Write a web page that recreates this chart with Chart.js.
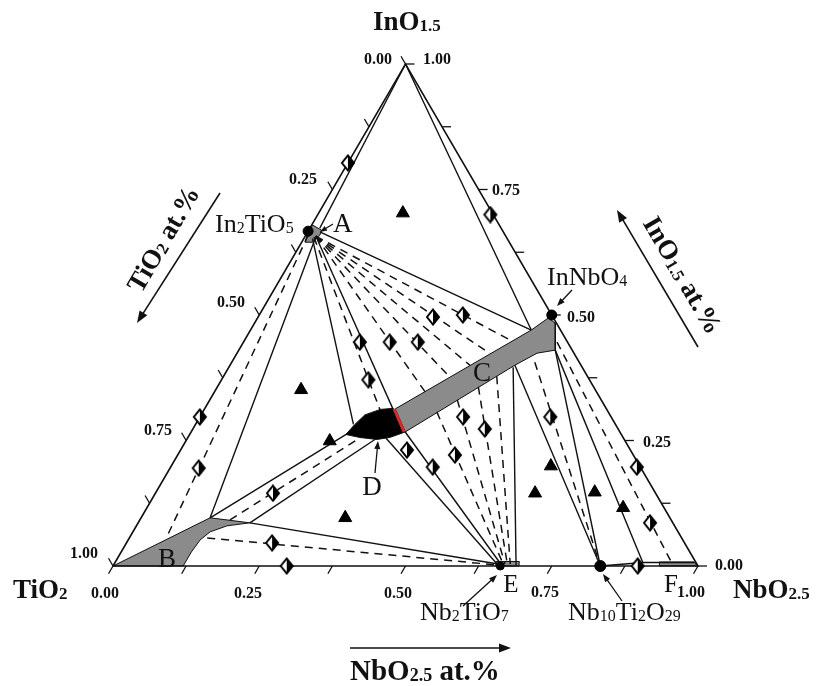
<!DOCTYPE html>
<html><head><meta charset="utf-8">
<style>html,body{margin:0;padding:0;background:#fff;}canvas{display:block;}</style>
<script src="https://cdn.jsdelivr.net/npm/chart.js"></script>
</head><body>
<canvas id="c" width="816" height="686"></canvas>
<script>
// All compositions are [NbO2.5 fraction, InO1.5 fraction]; TiO2 = 1 - both.
const triangleCorners = [[0,0],[1,0],[0,1],[0,0]];
const compoundPoints = [[0,0.667],[0.5,0.5],[0.833,0],[0.662,0]]; // In2TiO5, InNbO4, Nb10Ti2O29, Nb2TiO7
const compoundDotSizes = [5,5,5.5,4];
const solidTieLines = [
  [[0,1],[0.017,0.673]],
  [[0,1],[0.480,0.470]],
  [[0.019,0.655],[0.118,0.096]],
  [[0.015,0.652],[0.270,0.282]],
  [[0.020,0.655],[0.322,0.313]],
  [[0.022,0.665],[0.480,0.470]],
  [[0.118,0.096],[0.272,0.267]],
  [[0.191,0.086],[0.324,0.255]],
  [[0.191,0.086],[0.656,0.004]],
  [[0.339,0.255],[0.657,0.002]],
  [[0.366,0.267],[0.662,0.003]],
  [[0.486,0.396],[0.688,0.002]],
  [[0.487,0.400],[0.833,0]],
  [[0.541,0.430],[0.833,0]],
  [[0.541,0.430],[0.903,0.006]],
  [[0.833,0],[0.903,0.007],[0.990,0.007]]
];
const dashedTieLines = [
  [[0.004,0.660],[0.063,0.058]],
  [[0.016,0.655],[0.301,0.311]],
  [[0.018,0.657],[0.360,0.347]],
  [[0.018,0.657],[0.388,0.376]],
  [[0.018,0.657],[0.410,0.400]],
  [[0.018,0.657],[0.433,0.423]],
  [[0.018,0.657],[0.458,0.448]],
  [[0.154,0.092],[0.298,0.259]],
  [[0.133,0.056],[0.656,0.002]],
  [[0.400,0.307],[0.665,0.004]],
  [[0.423,0.331],[0.668,0.004]],
  [[0.446,0.357],[0.672,0.004]],
  [[0.467,0.378],[0.677,0.004]],
  [[0.518,0.406],[0.833,0]],
  [[0.536,0.446],[0.956,0.002]]
];
const regionA = [[0,0.667],[0.002,0.679],[0.022,0.669],[0.024,0.659],[0.018,0.645],[0.006,0.645]];
const regionB = [[0,0],[0.118,0.096],[0.191,0.086],[0.155,0.080],[0.132,0.068],[0.123,0.052],[0.120,0.028],[0.120,0]];
const regionC = [[0.326,0.313],[0.480,0.470],[0.497,0.494],[0.514,0.484],[0.541,0.430],[0.513,0.424],[0.487,0.400],[0.366,0.267]];
const regionD = [[0.267,0.262],[0.272,0.281],[0.280,0.301],[0.301,0.312],[0.322,0.314],[0.366,0.267],[0.345,0.256],[0.325,0.252],[0.294,0.256]];
const regionE = [[0.650,0.009],[0.690,0.009],[0.694,0],[0.654,0]];
const regionF = [[0.930,0.008],[0.990,0.008],[0.998,0],[0.935,0]];
const redBoundary = [[0.324,0.313],[0.364,0.267]];
const diamondPoints = [
  [0,0.803],[0.295,0.700],[0,0.297],[0.049,0.195],[0.299,0.496],[0.348,0.500],
  [0.199,0.446],[0.250,0.446],[0.298,0.446],[0.251,0.371],[0.599,0.297],[0.450,0.297],
  [0.499,0.273],[0.387,0.231],[0.474,0.221],[0.448,0.197],[0.201,0.145],[0.249,0.046],
  [0.297,0],[0.797,0.197],[0.875,0.086],[0.897,0]
];
const trianglePoints = [
  [0.144,0.703],[0.146,0.351],[0.246,0.249],[0.349,0.096],
  [0.649,0.199],[0.649,0.145],[0.750,0.147],[0.814,0.116]
];
const tickFractions = [0,0.125,0.25,0.375,0.5,0.625,0.75,0.875,1];
const tickLabels = ['0.00','0.25','0.50','0.75','1.00'];

const toXY = pts => pts.map(([nb, inn]) => ({x: nb + inn / 2, y: inn}));
const INK = '#111';
const FAM = '"Liberation Serif","Times New Roman",serif';

// half-filled diamond marker
const dia = document.createElement('canvas');
dia.width = 16; dia.height = 18;
(function(){
  const g = dia.getContext('2d');
  const path = (full) => { g.beginPath(); g.moveTo(8,1.5); g.lineTo(14,9); g.lineTo(8,16.5); if (full) g.lineTo(2,9); g.closePath(); };
  path(true); g.fillStyle = '#fff'; g.fill();
  path(false); g.fillStyle = '#000'; g.fill();
  path(true); g.strokeStyle = '#000'; g.lineWidth = 2; g.stroke();
})();

const datasets = [];
function region(pts, color, order) {
  const d = toXY(pts); d.push(d[0]);
  datasets.push({type:'line', data:d, borderColor:INK, borderWidth:1, backgroundColor:color,
    fill:'shape', pointRadius:0, order, clip:false, tension:0});
}
region(regionB, '#8b8b8b', 10);
region(regionC, '#8b8b8b', 10);
region(regionA, '#8b8b8b', 10);
region(regionE, '#8b8b8b', 10);
region(regionF, '#8b8b8b', 10);
datasets.push({type:'line', data:toXY(triangleCorners), borderColor:INK, borderWidth:1.6, pointRadius:0, fill:false, order:9, clip:false});
solidTieLines.forEach(l => datasets.push({type:'line', data:toXY(l), borderColor:INK, borderWidth:1.4, pointRadius:0, fill:false, order:8, clip:false}));
dashedTieLines.forEach(l => datasets.push({type:'line', data:toXY(l), borderColor:INK, borderWidth:1.5, borderDash:[8,6], pointRadius:0, fill:false, order:8, clip:false}));
region(regionD, '#000', 5);
datasets.push({type:'line', data:toXY(redBoundary), borderColor:'#d42a2a', borderWidth:3, pointRadius:0, fill:false, order:4, clip:false});
datasets.push({type:'line', data:toXY(diamondPoints), showLine:false, pointStyle:dia, pointRadius:8, order:2, clip:false});
datasets.push({type:'line', data:toXY(trianglePoints), showLine:false, pointStyle:'triangle', pointRadius:7.5,
  pointBackgroundColor:'#000', pointBorderColor:'#000', pointBorderWidth:1, order:2, clip:false});
datasets.push({type:'line', data:toXY(compoundPoints), showLine:false, pointStyle:'circle', pointRadius:compoundDotSizes,
  pointBackgroundColor:'#000', pointBorderColor:'#000', order:1, clip:false});

function drawRich(ctx, parts, x, y, size, weight, align) {
  const sub = Math.round(size * 0.62);
  const ws = []; let w = 0;
  parts.forEach(([t, s]) => { ctx.font = `${weight} ${s ? sub : size}px ${FAM}`; const m = ctx.measureText(t).width; ws.push(m); w += m; });
  let cx = align === 'center' ? x - w / 2 : align === 'right' ? x - w : x;
  ctx.textAlign = 'left'; ctx.textBaseline = 'alphabetic'; ctx.fillStyle = INK;
  parts.forEach(([t, s], i) => { ctx.font = `${weight} ${s ? sub : size}px ${FAM}`; ctx.fillText(t, cx, y + (s ? 1 : 0)); cx += ws[i]; });
}
function arrow(ctx, x1, y1, x2, y2, head, lw) {
  const a = Math.atan2(y2 - y1, x2 - x1);
  ctx.save(); ctx.strokeStyle = INK; ctx.fillStyle = INK; ctx.lineWidth = lw;
  ctx.beginPath(); ctx.moveTo(x1, y1); ctx.lineTo(x2 - Math.cos(a) * head * 0.6, y2 - Math.sin(a) * head * 0.6); ctx.stroke();
  ctx.beginPath(); ctx.moveTo(x2, y2);
  ctx.lineTo(x2 - Math.cos(a) * head + Math.sin(a) * head * 0.38, y2 - Math.sin(a) * head - Math.cos(a) * head * 0.38);
  ctx.lineTo(x2 - Math.cos(a) * head - Math.sin(a) * head * 0.38, y2 - Math.sin(a) * head + Math.cos(a) * head * 0.38);
  ctx.closePath(); ctx.fill(); ctx.restore();
}

const decor = {
  id: 'decor',
  beforeDatasetsDraw(chart) {
    const ctx = chart.ctx, sx = chart.scales.x, sy = chart.scales.y;
    const px = (nb, inn) => [sx.getPixelForValue(nb + inn / 2), sy.getPixelForValue(inn)];
    ctx.save(); ctx.strokeStyle = INK; ctx.lineWidth = 1.3;
    tickFractions.forEach(t => {
      let [x, y] = px(0, 1 - t); // TiO2 axis (left)
      ctx.beginPath(); ctx.moveTo(x, y); ctx.lineTo(x - 4.5, y - 7.8); ctx.stroke();
      [x, y] = px(t, 0); // NbO2.5 axis (bottom)
      ctx.beginPath(); ctx.moveTo(x, y); ctx.lineTo(x - 4.5, y + 7.8); ctx.stroke();
      [x, y] = px(1 - t, t); // InO1.5 axis (right)
      ctx.beginPath(); ctx.moveTo(x, y); ctx.lineTo(x + 9, y); ctx.stroke();
    });
    ctx.restore();
  },
  afterDatasetsDraw(chart) {
    const ctx = chart.ctx;
    ctx.save();
    const leftPos = [[392,64],[317,184],[245,307],[172,435],[98,558]];
    const bottomPos = [[105,598],[248,598],[398,598],[545,597],[691,597]];
    const rightPos = [[715,570],[643,447],[567,322],[492,195],[423,64]];
    tickLabels.forEach((lab, i) => {
      drawRich(ctx, [[lab,0]], leftPos[i][0], leftPos[i][1], 16, 'bold', 'right');
      drawRich(ctx, [[lab,0]], bottomPos[i][0], bottomPos[i][1], 16, 'bold', 'center');
      drawRich(ctx, [[lab,0]], rightPos[i][0], rightPos[i][1], 16, 'bold', 'left');
    });
    // corner labels
    drawRich(ctx, [['InO',0],['1.5',1]], 373, 30, 27, 'bold', 'left');
    drawRich(ctx, [['TiO',0],['2',1]], 13, 598, 27, 'bold', 'left');
    drawRich(ctx, [['NbO',0],['2.5',1]], 733, 598, 27, 'bold', 'left');
    // axis titles
    drawRich(ctx, [['NbO',0],['2.5',1],[' at.%',0]], 350, 680, 29, 'bold', 'left');
    arrow(ctx, 350, 648, 511, 648, 12, 1.6);
    ctx.save(); ctx.translate(163, 239); ctx.rotate(-59.8 * Math.PI / 180);
    drawRich(ctx, [['TiO',0],['2',1],[' at.%',0]], 0, 9, 27, 'bold', 'center'); ctx.restore();
    arrow(ctx, 220, 193, 137, 323, 12, 1.6);
    ctx.save(); ctx.translate(683, 275); ctx.rotate(59.8 * Math.PI / 180);
    drawRich(ctx, [['InO',0],['1.5',1],[' at.%',0]], 0, 9, 27, 'bold', 'center'); ctx.restore();
    arrow(ctx, 698, 347, 617, 210, 12, 1.6);
    // compound labels
    drawRich(ctx, [['In',0],['2',1],['TiO',0],['5',1]], 215, 232, 26, 'normal', 'left');
    drawRich(ctx, [['InNbO',0],['4',1]], 547, 285, 26, 'normal', 'left');
    drawRich(ctx, [['Nb',0],['2',1],['TiO',0],['7',1]], 420, 620, 26, 'normal', 'left');
    drawRich(ctx, [['Nb',0],['10',1],['Ti',0],['2',1],['O',0],['29',1]], 568, 620, 26, 'normal', 'left');
    arrow(ctx, 572, 290, 557, 306, 8, 1.3);
    arrow(ctx, 463, 606, 497, 575, 8, 1.3);
    arrow(ctx, 622, 601, 603, 574, 8, 1.3);
    // region letters
    drawRich(ctx, [['A',0]], 333, 232, 27, 'normal', 'left');
    arrow(ctx, 333, 224, 320, 232, 7, 1.2);
    drawRich(ctx, [['B',0]], 167, 567, 27, 'normal', 'center');
    drawRich(ctx, [['C',0]], 482, 381, 27, 'normal', 'center');
    drawRich(ctx, [['D',0]], 372, 495, 27, 'normal', 'center');
    arrow(ctx, 375, 473, 378, 441, 8, 1.3);
    drawRich(ctx, [['E',0]], 511, 592, 25, 'normal', 'center');
    drawRich(ctx, [['F',0]], 671, 592, 25, 'normal', 'center');
    ctx.restore();
  }
};

new Chart(document.getElementById('c'), {
  type: 'line',
  data: { datasets },
  options: {
    responsive: false, animation: false, devicePixelRatio: 1, events: [],
    layout: { padding: { left: 113, right: 118, top: 64, bottom: 120 } },
    scales: {
      x: { type: 'linear', min: 0, max: 1, display: false },
      y: { type: 'linear', min: 0, max: 1, display: false }
    },
    plugins: { legend: { display: false }, tooltip: { enabled: false } }
  },
  plugins: [decor]
});
</script>
</body></html>
